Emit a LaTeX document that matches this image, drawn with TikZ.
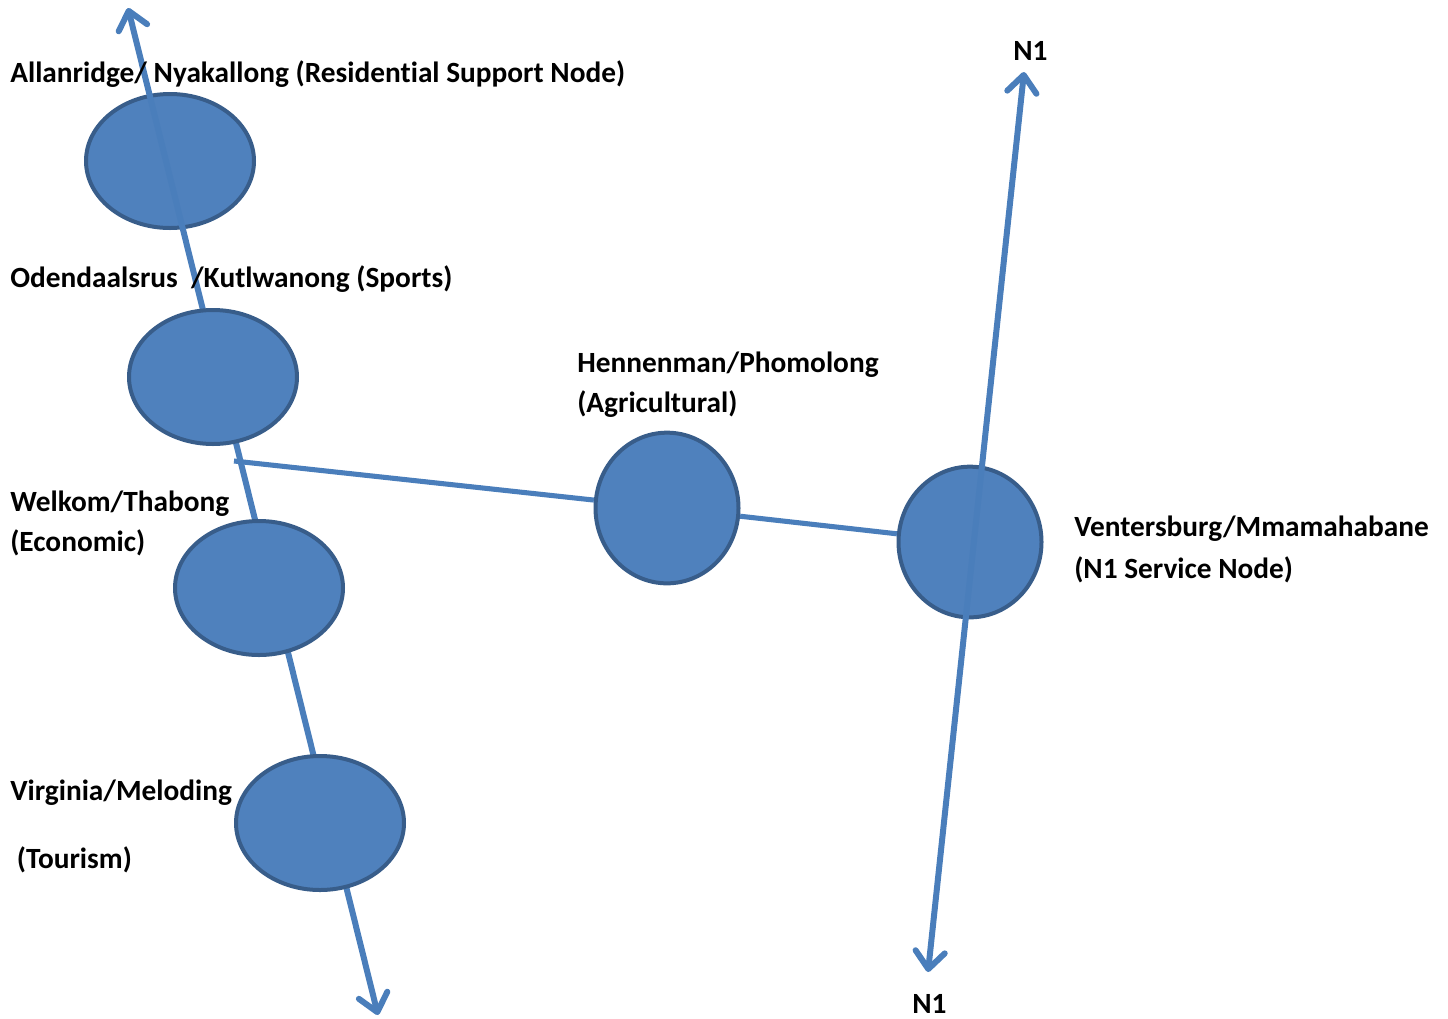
\documentclass[tikz,border=0pt]{standalone}
\usepackage{fontspec}
\setmainfont{Carlito}[Ligatures=NoCommon]
\usetikzlibrary{shapes.geometric,arrows.meta}
\definecolor{nodefill}{HTML}{4F81BD}
\definecolor{nodeline}{HTML}{385D8A}
\definecolor{linkcol}{HTML}{4A7EBB}
\begin{document}
\begin{tikzpicture}[x=0.75pt,y=-0.75pt,
  town/.style={ellipse,draw=nodeline,fill=nodefill,line width=3pt,inner sep=0pt,minimum width=126pt,minimum height=100.5pt},
  roundtown/.style={town,minimum width=107.25pt,minimum height=113pt},
  link/.style={draw=linkcol,line width=4.5pt},
  thinlink/.style={draw=linkcol,line width=3.8pt},
  bothtips/.style={{Straight Barb[length=13pt,width=22pt,round]}-{Straight Barb[length=13pt,width=22pt,round]}},
  lbl/.style={anchor=base west,align=left,inner sep=0pt,font=\bfseries\fontsize{22}{30}\selectfont}]
\useasboundingbox (0,0) rectangle (1448,1018);
% named free ends
\coordinate (T1) at (128,8);
\coordinate (T2) at (378,1015);
\coordinate (J) at (234,461);
\coordinate (N1t) at (1024,72);
\coordinate (N1b) at (928,972);
% top node and main line
\node[town] (A) at (170,161) {};
\draw[link,bothtips] (T1) -- (T2);
\node[town] (O) at (213,377) {};
\node[town] (W) at (259,588) {};
\node[town] (V) at (320,823) {};
\node[roundtown] (H) at (667,508) {};
\node[roundtown] (Vt) at (970,542) {};
\draw[thinlink] (J) -- (H);
\draw[thinlink] (H) -- (Vt);
\draw[link,bothtips] (N1b) -- (N1t);
% labels (base anchor = last line's baseline)
\node[lbl] (lA) at (10,82) {Allanridge/ Nyakallong (Residential Support Node)};
\node[lbl] (lO) at (10,287) {Odendaalsrus\ \ /Kutlwanong (Sports)};
\node[lbl] (lH) at (577,412) {Hennenman/Phomolong\\(Agricultural)};
\node[lbl] (lW) at (10,551) {Welkom/Thabong\\(Economic)};
\node[lbl] (lV) at (10,868) {Virginia/Meloding\\[21pt]\ (Tourism)};
\node[lbl] (lVt) at (1074,578) {Ventersburg/Mmamahabane\\[1.5pt](N1 Service Node)};
\node[lbl] (lN1t) at (1013,60) {N1};
\node[lbl] (lN1b) at (912,1013) {N1};
\end{tikzpicture}
\end{document}
